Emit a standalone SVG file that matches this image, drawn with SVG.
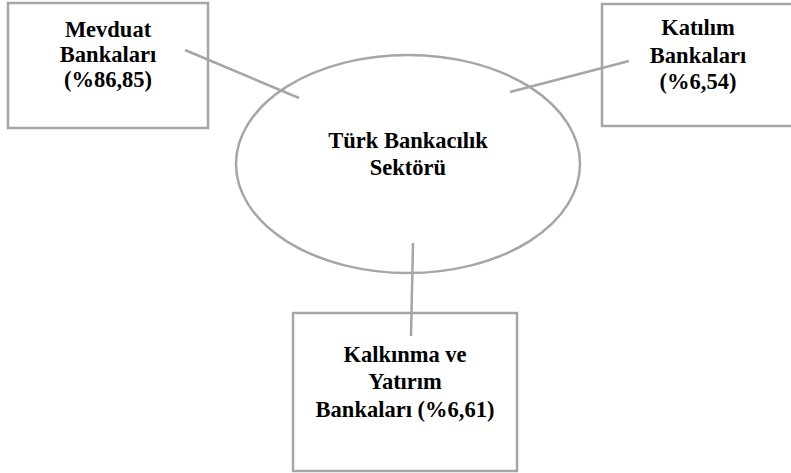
<svg xmlns="http://www.w3.org/2000/svg" width="791" height="473" viewBox="0 0 791 473">
<style>
.box{fill:#fff;stroke:#a6a6a6;stroke-width:2.5}
.ell{fill:#fff;stroke:#a6a6a6;stroke-width:2.5}
.con{stroke:#a6a6a6;stroke-width:2.5;fill:none}
.t{font-family:'Liberation Serif',serif;font-weight:700;font-size:22.5px;fill:#000;text-anchor:middle}
</style>
<rect width="791" height="473" fill="#fff"/>
<g id="mevduat">
<rect class="box" x="8" y="3" width="200" height="125"/>
<text class="t" x="108" y="37">Mevduat</text>
<text class="t" x="108" y="62">Bankaları</text>
<text class="t" x="108" y="87">(%86,85)</text>
</g>
<g id="katilim">
<rect class="box" x="602" y="4" width="200" height="122"/>
<text class="t" x="698" y="35">Katılım</text>
<text class="t" x="698" y="63">Bankaları</text>
<text class="t" x="698" y="89">(%6,54)</text>
</g>
<g id="sektor">
<ellipse class="ell" cx="408" cy="164" rx="172" ry="109"/>
<text class="t" x="408" y="148">Türk Bankacılık</text>
<text class="t" x="408" y="175">Sektörü</text>
</g>
<g id="kalkinma">
<rect class="box" x="293" y="313" width="224" height="158"/>
<text class="t" x="405" y="362">Kalkınma ve</text>
<text class="t" x="405" y="389">Yatırım</text>
<text class="t" x="405" y="417">Bankaları (%6,61)</text>
</g>
<g id="connectors">
<line class="con" x1="185" y1="50" x2="299" y2="98"/>
<line class="con" x1="510" y1="92" x2="629" y2="61"/>
<line class="con" x1="413" y1="243" x2="411" y2="336"/>
</g>
</svg>
